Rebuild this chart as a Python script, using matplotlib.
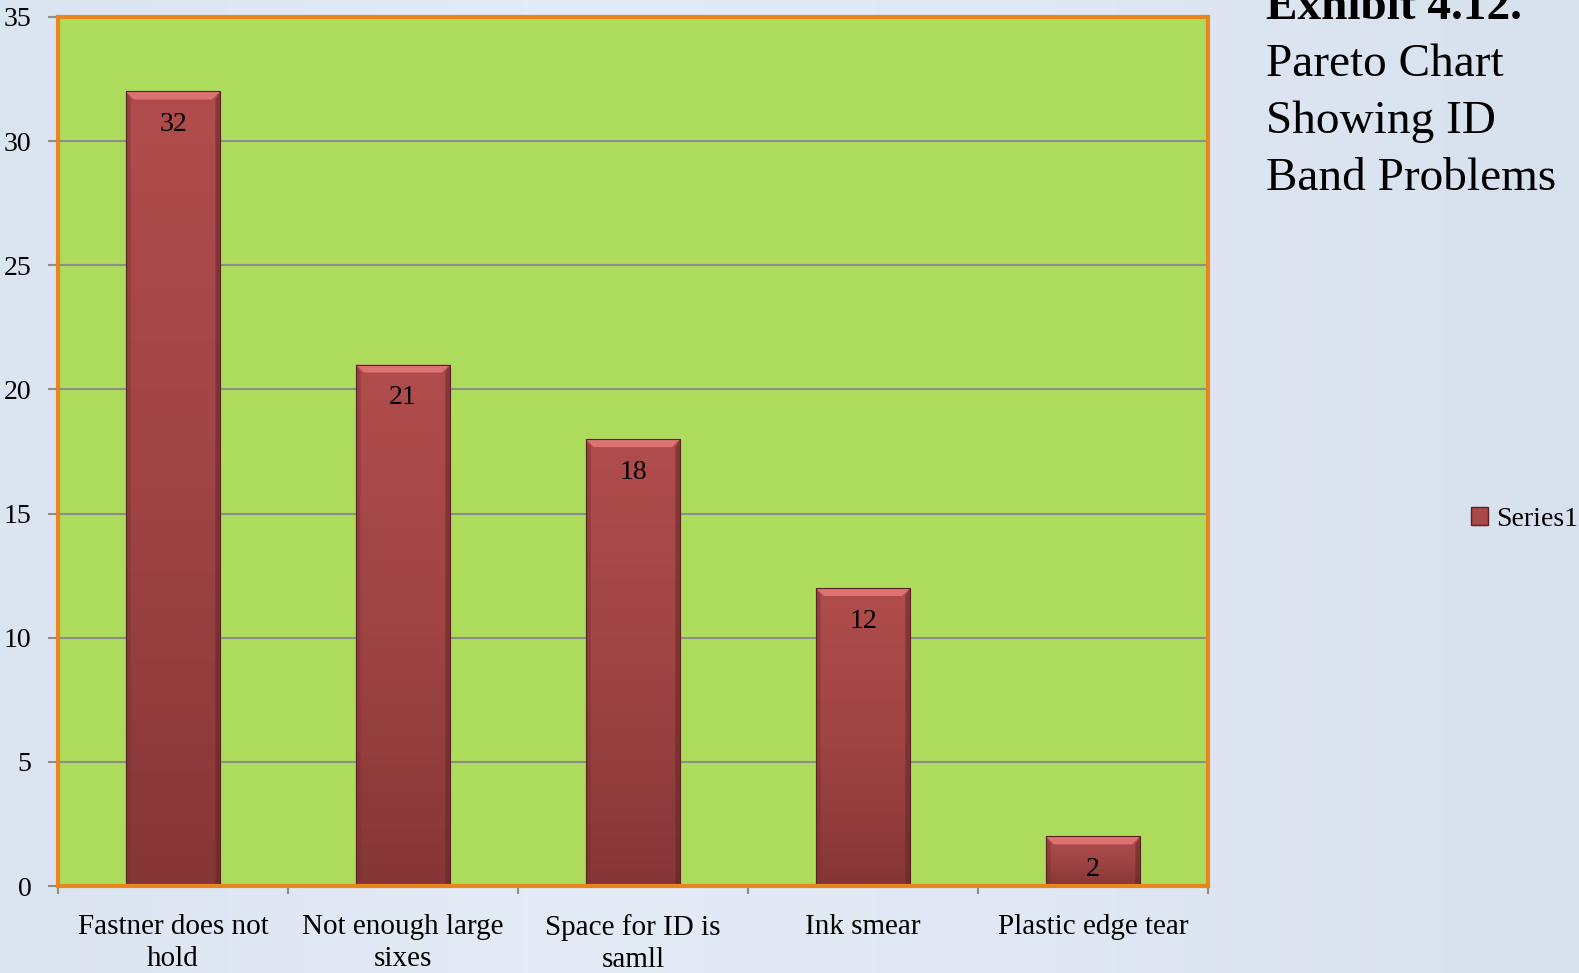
import numpy as np
import matplotlib
matplotlib.use("Agg")
import matplotlib.pyplot as plt
from matplotlib.patches import Polygon, Patch
from matplotlib.colors import LinearSegmentedColormap

categories = ["Fastner does not\nhold", "Not enough large\nsixes", "Space for ID is\nsamll", "Ink smear", "Plastic edge tear"]
values = [32, 21, 18, 12, 2]
series_name = "Series1"
yticks = [0, 5, 10, 15, 20, 25, 30, 35]

plt.rcParams['font.family'] = ['Liberation Serif', 'DejaVu Serif']

W, H = 1579, 973
fig = plt.figure(figsize=(W / 100, H / 100), dpi=100)

# background gradient
bg = fig.add_axes([0, 0, 1, 1], zorder=-10)
gx = np.linspace(0, 1, 256)
grad = np.outer(np.ones(10), gx)
bgcmap = LinearSegmentedColormap.from_list('bg', ['#dbe4f1', '#e2ebf6', '#dfe8f4', '#d7e0ed'])
bg.imshow(grad, aspect='auto', cmap=bgcmap, extent=[0, 1, 0, 1])
bg.set_axis_off()

left, right = 58 / W, 1208 / W
bottom, top = 1 - 886 / H, 1 - 17 / H
ax = fig.add_axes([left, bottom, right - left, top - bottom])
ax.set_facecolor('#addb5b')

x = np.arange(len(categories))
bars = ax.bar(x, values, width=0.41, color='#a84848', edgecolor='#5a2222', linewidth=0.8, zorder=3)
ax.set_xlim(-0.5, len(categories) - 0.5)
ax.set_ylim(0, 35)

fig.canvas.draw()
inv = ax.transData.inverted()
def px_to_data_y(p):
    return inv.transform((0, p))[1] - inv.transform((0, 0))[1]
def px_to_data_x(p):
    return inv.transform((p, 0))[0] - inv.transform((0, 0))[0]

bev_y = px_to_data_y(8)
bev_x = px_to_data_x(8)
cmap = LinearSegmentedColormap.from_list('bar', ['#863636', '#a04444', '#b04c4c'])
for b in bars:
    bx, by, bw, bh = b.get_x(), b.get_y(), b.get_width(), b.get_height()
    g = np.linspace(0, 1, 200).reshape(-1, 1)
    im = ax.imshow(g, cmap=cmap, origin='lower', aspect='auto',
                   extent=[bx, bx + bw, by, by + bh], zorder=3.5)
    im.set_clip_path(b)
    poly = Polygon([[bx, by + bh], [bx + bw, by + bh], [bx + bw - bev_x, by + bh - bev_y],
                    [bx + bev_x, by + bh - bev_y]], closed=True,
                   facecolor='#dc7272', edgecolor='none', zorder=4)
    ax.add_patch(poly)
    side_l = Polygon([[bx, by], [bx, by + bh], [bx + bev_x * 0.6, by + bh - bev_y],
                      [bx + bev_x * 0.6, by]], closed=True, facecolor='#7a3030', alpha=0.45,
                     edgecolor='none', zorder=4)
    ax.add_patch(side_l)
    side_r = Polygon([[bx + bw, by], [bx + bw, by + bh], [bx + bw - bev_x * 0.6, by + bh - bev_y],
                      [bx + bw - bev_x * 0.6, by]], closed=True, facecolor='#5e2424', alpha=0.5,
                     edgecolor='none', zorder=4)
    ax.add_patch(side_r)
    b.set_facecolor('none')
    b.set_zorder(5)
    ax.text(bx + bw / 2, by + bh - px_to_data_y(33), f"{int(bh)}",
            ha='center', va='center', fontsize=20, color='black', zorder=6)

ax.set_yticks(yticks)
ax.yaxis.grid(True, color='#8c8c8c', linewidth=1.5, zorder=1)
ax.set_axisbelow(True)
ax.tick_params(axis='y', length=7, width=1.5, color='#8c8c8c', labelsize=20, pad=12)

ax.set_xticks(x)
ax.set_xticklabels(categories, fontsize=21, linespacing=1.3)
ax.tick_params(axis='x', length=0, pad=20)
ax.set_xticks(np.arange(-0.5, len(categories)), minor=True)
ax.tick_params(axis='x', which='minor', length=6, width=1.5, color='#8c8c8c')

for s in ax.spines.values():
    s.set_color('#e8861e')
    s.set_linewidth(3)
    s.set_zorder(7)

leg = fig.legend(handles=[Patch(facecolor='#a84848', edgecolor='#5a2222', label=series_name)],
                 loc='center left', bbox_to_anchor=(1471 / W, 1 - 519 / H), frameon=False,
                 fontsize=20, handlelength=0.6, handleheight=0.6, handletextpad=0.3,
                 borderaxespad=0, borderpad=0)

tx = 1266 / W
fig.text(tx, 1 - 19 / H, "Exhibit 4.12.", fontsize=34, fontweight='bold', va='baseline', ha='left')
for i, line in enumerate(["Pareto Chart", "Showing ID", "Band Problems"]):
    fig.text(tx, 1 - (76 + 57 * i) / H, line, fontsize=34, va='baseline', ha='left')

fig.savefig('out.png', dpi=100)
